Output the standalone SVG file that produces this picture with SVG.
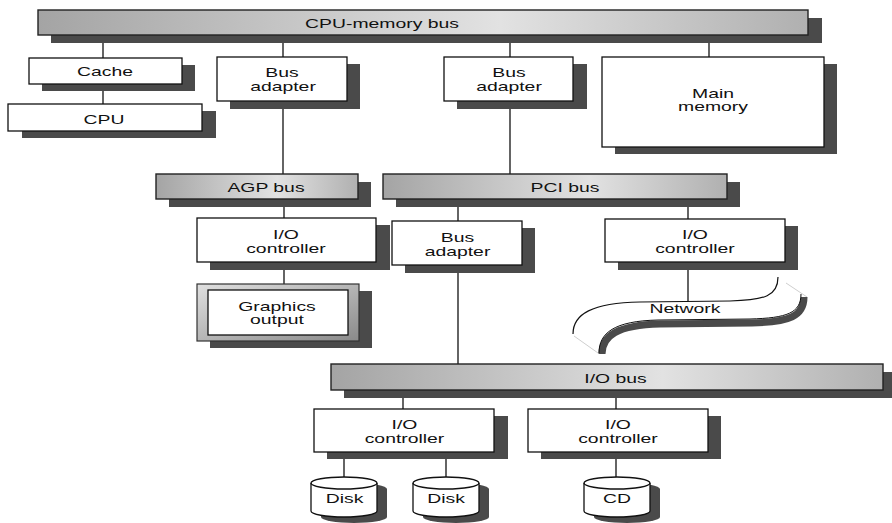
<svg xmlns="http://www.w3.org/2000/svg" width="892" height="523" viewBox="0 0 892 523">
<defs>
<linearGradient id="busg" x1="0" y1="0" x2="1" y2="0">
<stop offset="0" stop-color="#a4a4a4"/>
<stop offset="0.6" stop-color="#e2e2e2"/>
<stop offset="1" stop-color="#b0b0b0"/>
</linearGradient>
<linearGradient id="frameg" x1="0" y1="0" x2="1" y2="1">
<stop offset="0" stop-color="#e0e0e0"/>
<stop offset="1" stop-color="#8a8a8a"/>
</linearGradient>
<style>
.sh{fill:#4a4a4a}
.bus{fill:url(#busg);stroke:#222;stroke-width:1.4}
.box{fill:#fff;stroke:#111;stroke-width:1.3}
.ln{stroke:#111;stroke-width:1.3;fill:none}
text{font-family:"Liberation Sans",Arial,sans-serif;font-size:12.5px;fill:#111;text-anchor:middle}
</style>
</defs>
<rect width="892" height="523" fill="#fff"/>

<g id="connectors">
<line class="ln" x1="103" y1="35" x2="103" y2="58"/>
<line class="ln" x1="103" y1="84" x2="103" y2="104"/>
<line class="ln" x1="283" y1="35" x2="283" y2="57"/>
<line class="ln" x1="283" y1="101" x2="283" y2="174"/>
<line class="ln" x1="510" y1="35" x2="510" y2="57"/>
<line class="ln" x1="510" y1="101" x2="510" y2="174"/>
<line class="ln" x1="709" y1="35" x2="709" y2="57"/>
<line class="ln" x1="284" y1="199" x2="284" y2="218"/>
<line class="ln" x1="284" y1="262" x2="284" y2="284"/>
<line class="ln" x1="458" y1="199" x2="458" y2="221"/>
<line class="ln" x1="688" y1="199" x2="688" y2="219"/>
<line class="ln" x1="458" y1="265" x2="458" y2="364"/>
<line class="ln" x1="688" y1="262" x2="688" y2="301"/>
<line class="ln" x1="403" y1="390" x2="403" y2="409"/>
<line class="ln" x1="616" y1="390" x2="616" y2="409"/>
<line class="ln" x1="344" y1="452" x2="344" y2="477"/>
<line class="ln" x1="446" y1="452" x2="446" y2="477"/>
<line class="ln" x1="616" y1="452" x2="616" y2="477"/>
</g>

<g id="cpu-memory-bus">
<rect class="sh" x="51" y="18" width="771" height="25"/>
<rect class="bus" x="38" y="10" width="770" height="25"/>
<text transform="translate(382,27.5) scale(1.55,1)">CPU-memory bus</text>
</g>

<g id="cache">
<rect class="sh" x="42" y="65" width="153" height="26"/>
<rect class="box" x="29" y="58" width="153" height="26"/>
<text transform="translate(105,76) scale(1.55,1)">Cache</text>
</g>

<g id="cpu">
<rect class="sh" x="22" y="111" width="194" height="27"/>
<rect class="box" x="8" y="104" width="194" height="27"/>
<text transform="translate(104,123.5) scale(1.55,1)">CPU</text>
</g>

<g id="bus-adapter-agp">
<rect class="sh" x="230" y="64" width="130" height="45"/>
<rect class="box" x="217" y="57" width="130" height="44"/>
<text transform="translate(282,77.3) scale(1.55,1)">Bus</text>
<text transform="translate(283,90.8) scale(1.55,1)">adapter</text>
</g>

<g id="bus-adapter-pci">
<rect class="sh" x="457" y="64" width="130" height="45"/>
<rect class="box" x="444" y="57" width="129" height="44"/>
<text transform="translate(509,77.3) scale(1.55,1)">Bus</text>
<text transform="translate(509,90.8) scale(1.55,1)">adapter</text>
</g>

<g id="main-memory">
<rect class="sh" x="615" y="64" width="222" height="90"/>
<rect class="box" x="602" y="57" width="222" height="90"/>
<text transform="translate(713,98) scale(1.55,1)">Main</text>
<text transform="translate(713,111) scale(1.55,1)">memory</text>
</g>

<g id="agp-bus">
<rect class="sh" x="169" y="182" width="202" height="25"/>
<rect class="bus" x="156" y="174" width="202" height="25"/>
<text transform="translate(266,191.5) scale(1.55,1)">AGP bus</text>
</g>

<g id="pci-bus">
<rect class="sh" x="396" y="182" width="344" height="25"/>
<rect class="bus" x="383" y="174" width="344" height="25"/>
<text transform="translate(565,191.5) scale(1.55,1)">PCI bus</text>
</g>

<g id="io-controller-agp">
<rect class="sh" x="210" y="225" width="180" height="45"/>
<rect class="box" x="197" y="218" width="179" height="44"/>
<text transform="translate(286,239) scale(1.55,1)">I/O</text>
<text transform="translate(286,252.5) scale(1.55,1)">controller</text>
</g>

<g id="graphics-output">
<rect class="sh" x="210" y="291" width="162" height="57"/>
<rect x="197" y="284" width="162" height="57" fill="url(#frameg)" stroke="#333" stroke-width="1.2"/>
<rect class="box" x="208" y="290" width="140" height="45"/>
<text transform="translate(277,310.5) scale(1.55,1)">Graphics</text>
<text transform="translate(277,324) scale(1.55,1)">output</text>
</g>

<g id="bus-adapter-io">
<rect class="sh" x="405" y="228" width="130" height="45"/>
<rect class="box" x="392" y="221" width="130" height="44"/>
<text transform="translate(457.5,242) scale(1.55,1)">Bus</text>
<text transform="translate(457.5,255.5) scale(1.55,1)">adapter</text>
</g>

<g id="io-controller-network">
<rect class="sh" x="618" y="226" width="180" height="44"/>
<rect class="box" x="605" y="219" width="180" height="43"/>
<text transform="translate(695,239) scale(1.55,1)">I/O</text>
<text transform="translate(695,252.5) scale(1.55,1)">controller</text>
</g>

<g id="network">
<line x1="786" y1="283" x2="807" y2="297" stroke="#cfcfcf" stroke-width="1"/>
<line x1="574" y1="336" x2="598" y2="353" stroke="#cfcfcf" stroke-width="1"/>
<path d="M804,297 C804,316 790,322 752,323 L660,324 C617,325 602,336 602,354" fill="none" stroke="#4a4a4a" stroke-width="7"/>
<path d="M801,294 C801,313 787,318 750,319 L658,320 C614,321 599,333 599,353" fill="none" stroke="#111" stroke-width="1"/>
<path d="M778,277 C778,296 765,300 730,301 L640,302 C592,303 573,314 573,334" fill="none" stroke="#111" stroke-width="1.2"/>
<text transform="translate(685,313) scale(1.55,1)">Network</text>
</g>

<g id="io-bus">
<rect class="sh" x="344" y="372" width="548" height="26"/>
<rect class="bus" x="331" y="364" width="552" height="26"/>
<text transform="translate(615.5,383) scale(1.55,1)">I/O bus</text>
</g>

<g id="io-controller-disk">
<rect class="sh" x="327" y="416" width="181" height="43"/>
<rect class="box" x="314" y="409" width="180" height="43"/>
<text transform="translate(404.5,429) scale(1.55,1)">I/O</text>
<text transform="translate(404.5,442.5) scale(1.55,1)">controller</text>
</g>

<g id="io-controller-cd">
<rect class="sh" x="541" y="416" width="180" height="43"/>
<rect class="box" x="528" y="409" width="180" height="43"/>
<text transform="translate(618,429) scale(1.55,1)">I/O</text>
<text transform="translate(618,442.5) scale(1.55,1)">controller</text>
</g>

<g id="disk-1">
<path class="sh" d="M321,489 a33,6 0 0 1 66,0 v28 a33,6 0 0 1 -66,0 z"/>
<path class="box" d="M311,483 a33,6 0 0 1 66,0 v28 a33,6 0 0 1 -66,0 z"/>
<path class="ln" d="M311,483 a33,6 0 0 0 66,0"/>
<text transform="translate(344.5,503) scale(1.55,1)">Disk</text>
</g>

<g id="disk-2">
<path class="sh" d="M423,489 a33,6 0 0 1 66,0 v28 a33,6 0 0 1 -66,0 z"/>
<path class="box" d="M413,483 a33,6 0 0 1 66,0 v28 a33,6 0 0 1 -66,0 z"/>
<path class="ln" d="M413,483 a33,6 0 0 0 66,0"/>
<text transform="translate(446,503) scale(1.55,1)">Disk</text>
</g>

<g id="cd">
<path class="sh" d="M594,489 a33,6 0 0 1 66,0 v28 a33,6 0 0 1 -66,0 z"/>
<path class="box" d="M584,483 a33,6 0 0 1 66,0 v28 a33,6 0 0 1 -66,0 z"/>
<path class="ln" d="M584,483 a33,6 0 0 0 66,0"/>
<text transform="translate(617,503) scale(1.55,1)">CD</text>
</g>
</svg>
